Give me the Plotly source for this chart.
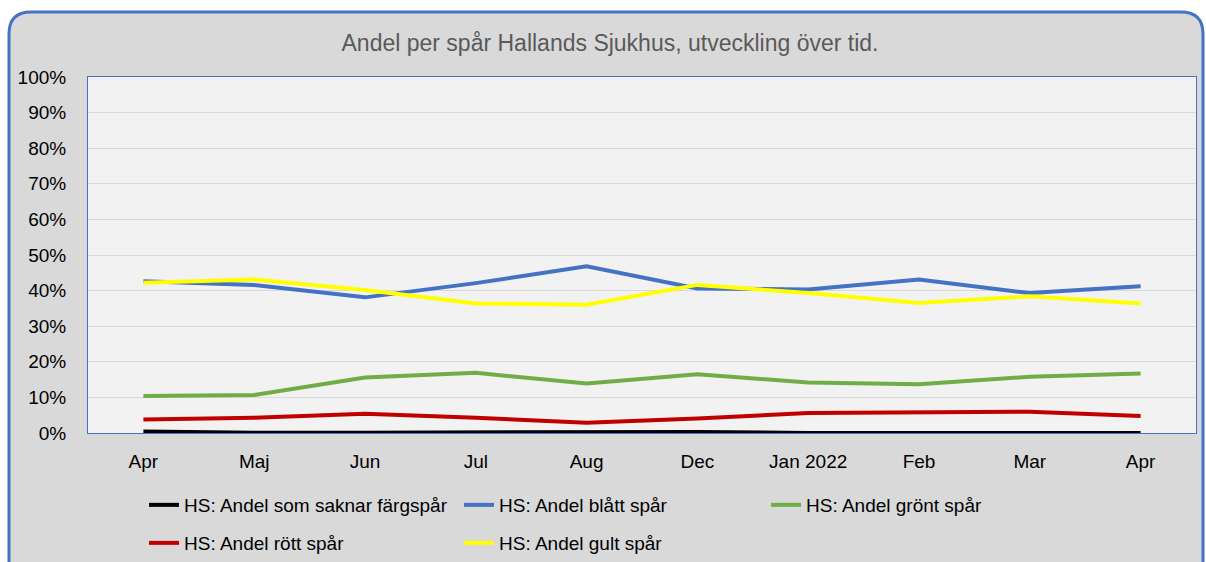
import plotly.graph_objects as go

categories = ["Apr", "Maj", "Jun", "Jul", "Aug", "Dec", "Jan 2022", "Feb", "Mar", "Apr"]
saknar = [0.4, 0.1, 0.1, 0.1, 0.2, 0.3, 0.0, 0.0, 0.0, 0.0]
blatt = [42.6, 41.6, 38.1, 42.1, 46.8, 40.6, 40.3, 43.1, 39.3, 41.2]
gront = [10.4, 10.7, 15.6, 16.9, 13.9, 16.5, 14.2, 13.7, 15.8, 16.7]
rott = [3.8, 4.3, 5.4, 4.3, 2.9, 4.1, 5.6, 5.8, 6.0, 4.8]
gult = [42.2, 43.1, 40.2, 36.4, 36.0, 41.6, 39.3, 36.5, 38.4, 36.4]
y_ticks = list(range(0, 101, 10))
y_ticktext = [f"{v}%" for v in y_ticks]

W, H = 1206, 562
L, R, T, B = 88, 10, 77, 129
pw, ph = W - L - R, H - T - B

def px(x):
    return (x - L) / pw

def py(y):
    return (H - B - y) / ph

FONT = "Liberation Sans"
FS = 19
xs = list(range(len(categories)))

series = [
    ("HS: Andel som saknar färgspår", saknar, "#000000", "legend", 270),
    ("HS: Andel blått spår", blatt, "#4472c4", "legend", 262),
    ("HS: Andel grönt spår", gront, "#70ad47", "legend", 258),
    ("HS: Andel rött spår", rott, "#c00000", "legend2", 270),
    ("HS: Andel gult spår", gult, "#ffff00", "legend2", 258),
]

fig = go.Figure()
for name, vals, col, lg, lw in series:
    fig.add_trace(go.Scatter(x=xs, y=vals, mode="lines", name=name,
                             line=dict(color=col, width=4), legend=lg,
                             legendwidth=lw))

# rounded outer frame
x0, x1, y0, y1 = 9, 1203, 12, 600
r = 22
path = (f"M {px(x0)},{py(y0 + r)} "
        f"Q {px(x0)},{py(y0)} {px(x0 + r)},{py(y0)} "
        f"L {px(x1 - r)},{py(y0)} "
        f"Q {px(x1)},{py(y0)} {px(x1)},{py(y0 + r)} "
        f"L {px(x1)},{py(y1)} L {px(x0)},{py(y1)} Z")
shapes = [
    dict(type="path", xref="paper", yref="paper", path=path,
         fillcolor="#d9d9d9", line=dict(color="#4472c4", width=3), layer="below"),
    dict(type="rect", xref="paper", yref="paper", x0=0, x1=1, y0=0, y1=1,
         fillcolor="#f2f2f2", line=dict(width=0), layer="below"),
]

leg_common = dict(orientation="h", xref="container", yref="container",
                  x=144 / W, xanchor="left", yanchor="middle",
                  bgcolor="rgba(0,0,0,0)",
                  font=dict(family=FONT, size=FS, color="#000000"),
                  traceorder="normal", itemwidth=30)

fig.update_layout(
    width=W, height=H,
    margin=dict(l=L, r=R, t=T, b=B, autoexpand=False),
    paper_bgcolor="white",
    plot_bgcolor="#f2f2f2",
    shapes=shapes,
    font=dict(family=FONT, size=FS, color="#000000"),
    title=dict(text="Andel per spår Hallands Sjukhus, utveckling över tid.",
               x=610 / W, xref="container", xanchor="center",
               y=1 - 43 / H, yref="container", yanchor="middle",
               font=dict(family=FONT, size=23, color="#595959")),
    showlegend=True,
    legend=dict(y=1 - 505 / H, **leg_common),
    legend2=dict(y=1 - 543 / H, **leg_common),
    xaxis=dict(tickmode="array", tickvals=xs, ticktext=categories,
               range=[-0.5, len(categories) - 0.5], showgrid=False, zeroline=False,
               showline=True, linecolor="#4472c4", linewidth=1, mirror=True,
               ticks="outside", ticklen=11, tickcolor="rgba(0,0,0,0)",
               tickfont=dict(size=FS), fixedrange=True),
    yaxis=dict(range=[0, 100], tickmode="array", tickvals=y_ticks, ticktext=y_ticktext,
               showgrid=True, gridcolor="#d9d9d9", gridwidth=1, zeroline=False,
               showline=True, linecolor="#4472c4", linewidth=1, mirror=True,
               ticks="outside", ticklen=17, tickcolor="rgba(0,0,0,0)",
               tickfont=dict(size=FS)),
)

fig.write_html("out.html", config={"displayModeBar": False},
               post_script="document.body.style.margin='0';")
